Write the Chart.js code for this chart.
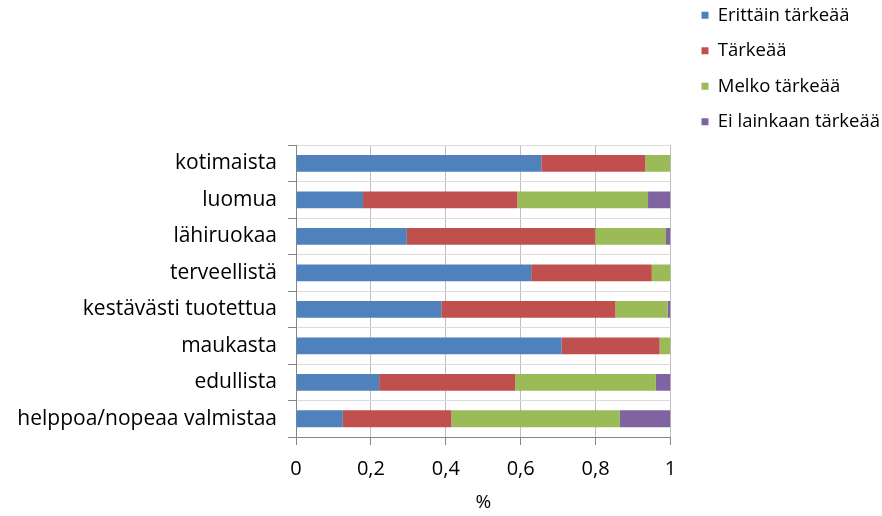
<!DOCTYPE html>
<html>
<head>
<meta charset="utf-8">
<script src="https://cdn.jsdelivr.net/npm/chart.js@4"></script>
<style>
  html, body { margin: 0; padding: 0; background: #fff; }
  canvas { display: block; }
</style>
</head>
<body>
<canvas id="chart" width="882" height="516"></canvas>
<script>
// categories (top -> bottom)
const categories = ["kotimaista","luomua","lähiruokaa","terveellistä","kestävästi tuotettua","maukasta","edullista","helppoa/nopeaa valmistaa"];
const seriesNames = ["Erittäin tärkeää","Tärkeää","Melko tärkeää","Ei lainkaan tärkeää"];

// shares per category
const erittain   = [0.655,0.179,0.296,0.628,0.388,0.709,0.222,0.125];
const tarkea     = [0.278,0.412,0.503,0.322,0.465,0.262,0.363,0.290];
const melko      = [0.067,0.349,0.189,0.050,0.139,0.029,0.376,0.450];
const eiLainkaan = [0,0.060,0.012,0,0.008,0,0.039,0.135];

const xTickLabels = ["0","0,2","0,4","0,6","0,8","1"];
const xTitle = "%";

const colors = ["#4f81bd","#c0504d","#9bbb59","#8064a2"];
const values = [erittain, tarkea, melko, eiLainkaan];

const FONT = "'Open Sans', 'Liberation Sans', sans-serif";

new Chart(document.getElementById("chart"),{
  type:"bar",
  data:{
    labels:categories,
    datasets:seriesNames.map((name,i)=>({
      label:name,
      data:values[i],
      backgroundColor:colors[i],
      borderWidth:0,
      barPercentage:0.46,
      categoryPercentage:1
    }))
  },
  options:{
    indexAxis:"y",
    responsive:false,
    animation:false,
    devicePixelRatio:1,
    layout:{padding:{top:-11,right:-8,bottom:0,left:0}},
    plugins:{
      tooltip:{enabled:false},
      // empty title only used as a spacer above the plot
      title:{display:true,text:"",font:{size:1},padding:{top:0,bottom:155}},
      legend:{
        position:"right",
        align:"start",
        maxWidth:300,
        labels:{
          boxWidth:7,
          boxHeight:7,
          padding:17,
          color:"#000",
          font:{family:FONT,size:18.5}
        }
      }
    },
    scales:{
      x:{
        stacked:true,
        min:0,
        max:1,
        afterFit:s=>{ s.height = 79; },
        ticks:{
          stepSize:0.2,
          padding:12,
          color:"#000",
          font:{family:FONT,size:20},
          callback:(v,i)=>xTickLabels[i]
        },
        grid:{color:"#bfbfbf",tickColor:"#868686",tickLength:8},
        border:{color:"#868686"},
        title:{display:true,text:xTitle,color:"#000",font:{family:FONT,size:19},padding:{top:0,bottom:2}}
      },
      y:{
        stacked:true,
        afterFit:s=>{ s.width = 296; },
        ticks:{
          padding:11,
          color:"#000",
          font:{family:FONT,size:21}
        },
        grid:{color:"#dcdcdc",tickColor:"#868686",tickLength:8},
        border:{color:"#868686"}
      },
      // empty axis on the right, only keeps a gap before the legend
      yGap:{
        type:"category",
        labels:categories,
        position:"right",
        grid:{display:false},
        border:{display:false},
        ticks:{display:false},
        afterFit:s=>{ s.width = 14; }
      }
    }
  }
});
</script>
</body>
</html>
